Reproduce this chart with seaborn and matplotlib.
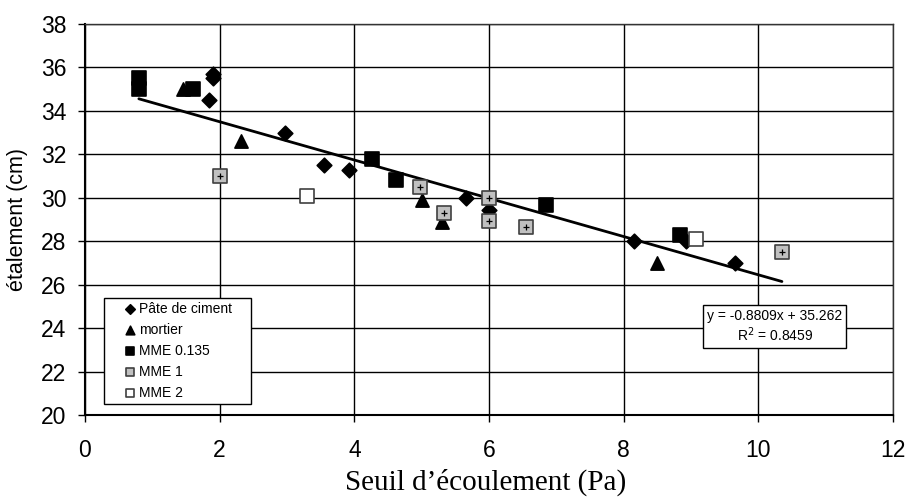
import pandas as pd
import numpy as np
import matplotlib
matplotlib.use("Agg")
import matplotlib.pyplot as plt
import seaborn as sns

# Données
pate_x = [1.90, 1.90, 1.84, 2.97, 3.55, 3.92, 5.66, 6.00, 8.15, 8.93, 9.65]
pate_y = [35.7, 35.5, 34.5, 33.0, 31.5, 31.3, 30.0, 29.45, 28.0, 28.0, 27.0]

mortier_x = [1.45, 2.32, 5.00, 5.30, 8.50]
mortier_y = [35.0, 32.6, 29.9, 28.9, 27.0]

mme0135_x = [0.80, 0.80, 1.60, 4.26, 4.62, 6.85, 8.83]
mme0135_y = [35.5, 35.0, 35.0, 31.8, 30.8, 29.65, 28.3]

mme1_x = [2.00, 4.97, 5.33, 6.00, 6.00, 6.55, 10.35]
mme1_y = [31.0, 30.5, 29.3, 30.0, 28.95, 28.65, 27.5]

mme2_x = [3.30, 9.08]
mme2_y = [30.1, 28.1]

# Courbe de tendance (équation affichée sur le graphique)
pente = -0.8809
ordonnee = 35.262
r2 = 0.8459

series = ["Pâte de ciment", "mortier", "MME 0.135", "MME 1", "MME 2"]

frames = []
for nom, xs, ys in [("Pâte de ciment", pate_x, pate_y),
                    ("mortier", mortier_x, mortier_y),
                    ("MME 0.135", mme0135_x, mme0135_y),
                    ("MME 1", mme1_x, mme1_y),
                    ("MME 2", mme2_x, mme2_y)]:
    frames.append(pd.DataFrame({"x": xs, "y": ys, "serie": nom}))
df = pd.concat(frames, ignore_index=True)

sns.set_theme(style="white")
plt.rcParams['font.family'] = ['Liberation Sans', 'DejaVu Sans']

styles = {
    "Pâte de ciment": dict(marker="D", color="black", s=55, edgecolor="black"),
    "mortier": dict(marker="^", color="black", s=90, edgecolor="black"),
    "MME 0.135": dict(marker="s", color="black", s=90, edgecolor="black"),
    "MME 1": dict(marker="s", color="#c0c0c0", s=90, edgecolor="#404040"),
    "MME 2": dict(marker="s", color="white", s=90, edgecolor="#404040"),
}

fig, ax = plt.subplots(figsize=(9.07, 4.98), dpi=100)
fig.subplots_adjust(left=0.0937, right=0.9846, top=0.9518, bottom=0.1667)

# droite de régression
x_min, x_max = df["x"].min(), df["x"].max()
xs_line = np.array([x_min, x_max])
ax.plot(xs_line, pente * xs_line + ordonnee, color="black", lw=2, zorder=2)

for nom in series:
    sub = df[df["serie"] == nom]
    st = styles[nom]
    sns.scatterplot(data=sub, x="x", y="y", ax=ax, marker=st["marker"],
                    color=st["color"], s=st["s"], edgecolor=st["edgecolor"],
                    linewidth=1.2, label=nom, zorder=3)

# petite croix dans les carrés MME 1
sub = df[df["serie"] == "MME 1"]
ax.scatter(sub["x"], sub["y"], marker="+", s=16, color="black", linewidths=0.9, zorder=4)

ax.set_xlim(0, 12)
ax.set_ylim(20, 38)
ax.set_xticks(range(0, 13, 2))
ax.set_yticks(range(20, 39, 2))
ax.grid(True, color="black", lw=1)
ax.set_axisbelow(True)

for side in ["top", "right"]:
    ax.spines[side].set_color("#333333")
    ax.spines[side].set_linewidth(1)
for side in ["left", "bottom"]:
    ax.spines[side].set_color("black")
    ax.spines[side].set_linewidth(1.5)

ax.tick_params(axis="both", which="major", labelsize=16.5, length=5, width=1,
               direction="out", bottom=True, left=True, colors="black")
ax.tick_params(axis="x", pad=12)
ax.tick_params(axis="y", pad=8.5)

ax.set_xlabel("Seuil d\u2019écoulement (Pa)", fontsize=21, family="Liberation Serif",
              color="black", va="center")
ax.xaxis.set_label_coords(0.496, -0.172)
ax.set_ylabel("étalement (cm)", fontsize=15.5, color="black", va="center")
ax.yaxis.set_label_coords(-0.084, 0.5)

leg = ax.legend(loc="lower left", bbox_to_anchor=(0.0235, 0.028, 0.182, 0),
                mode="expand", fontsize=10,
                frameon=True, fancybox=False, edgecolor="black", framealpha=1,
                handletextpad=-0.95, labelspacing=0.5, borderpad=0.3,
                markerscale=0.65, handlelength=3.2, borderaxespad=0)
leg.get_frame().set_linewidth(1)
for t in leg.get_texts():
    t.set_color("black")

eq_txt = f"y = {pente:.4f}x + {ordonnee:.3f}\nR$^2$ = {r2:.4f}"
ax.text(10.24, 24.07, eq_txt,
        ha="center", va="center", fontsize=10, color="black", multialignment="center",
        bbox=dict(boxstyle="square,pad=0.25", facecolor="white", edgecolor="black", lw=1),
        zorder=5)

fig.savefig("out.png", dpi=100)
